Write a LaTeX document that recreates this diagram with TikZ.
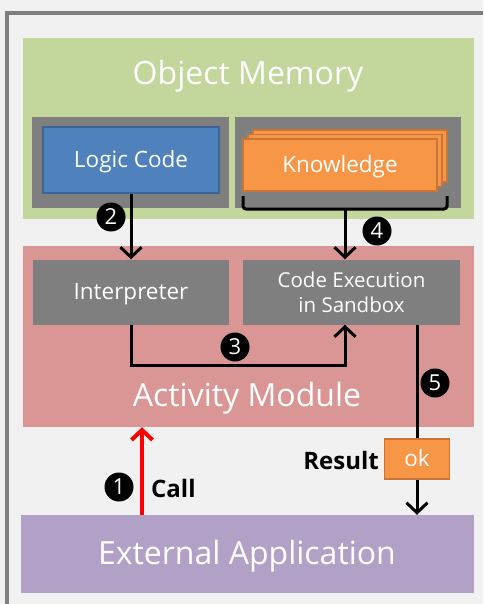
\documentclass[tikz,border=0pt]{standalone}
\usepackage{fontspec}
\setmainfont{Open Sans}
\usetikzlibrary{arrows.meta}
\definecolor{memgreen}{HTML}{C3D69B}
\definecolor{actred}{HTML}{D99694}
\definecolor{extpurple}{HTML}{B2A1C7}
\definecolor{boxgray}{HTML}{7F7F7F}
\definecolor{logicblue}{HTML}{4F81BD}
\definecolor{logicborder}{HTML}{3A6596}
\definecolor{knoworange}{HTML}{F79646}
\definecolor{knowborder}{HTML}{C87535}
\definecolor{backfill}{HTML}{F1F1F1}
\tikzset{
	panel/.style={rectangle, inner sep=0pt, text=white, align=center, text height=15pt, text depth=0pt, font=\fontsize{22.5}{25}\selectfont},
	title/.style={text=white, inner sep=0pt, text height=23pt, text depth=0pt, font=\fontsize{32}{36}\selectfont},
	badge/.style={circle, fill=black, text=white, minimum size=29pt, inner sep=0pt, font=\fontsize{22}{22}\selectfont},
	flow/.style={line width=3pt, -{Straight Barb[length=10pt,width=21pt]}},
	boldlabel/.style={inner sep=0pt, font=\fontsize{24}{26}\selectfont\bfseries},
}
\begin{document}
\begin{tikzpicture}[x=1pt,y=-1pt]
	\useasboundingbox (0,0) rectangle (483,604);
	\clip (0,0) rectangle (483,604);
	\fill[backfill] (0,0) rectangle (483,604);
	\draw[boxgray, line width=4pt] (7,13) rectangle (520,640);
	% object memory
	\node[panel, fill=memgreen, minimum width=451pt, minimum height=181pt] (mem) at (248.5,128.5) {};
	\node[title] (memtitle) at (248,73) {Object Memory};
	\node[panel, fill=boxgray, minimum width=197pt, minimum height=91pt] (logicbg) at (130.5,162.5) {};
	\node[panel, fill=logicblue, draw=logicborder, line width=1.5pt, minimum width=176pt, minimum height=66pt] (logic) at (131,160) {Logic Code};
	\node[panel, fill=boxgray, minimum width=226pt, minimum height=91pt] (knowbg) at (348,162.5) {};
	\foreach \s in {2,1}
		\node[panel, fill=knoworange, draw=knowborder, line width=1.5pt, minimum width=194pt, minimum height=52pt] (kb\s) at (340+5*\s,165-4.5*\s) {};
	\node[panel, fill=knoworange, draw=knowborder, line width=1.5pt, minimum width=194pt, minimum height=52pt] (know) at (340,165) {Knowledge};
	\coordinate (bl) at (243,196);
	\coordinate (br) at (447,196);
	\coordinate (k) at (345,209);
	\draw[line width=3pt, rounded corners=3pt] (bl) |- (k) -| (br);
	% activity module
	\node[panel, fill=actred, minimum width=451pt, minimum height=181pt] (act) at (248.5,336.5) {};
	\node[title] (acttitle) at (247,395) {Activity Module};
	\node[panel, fill=boxgray, minimum width=196pt, minimum height=65pt] (interp) at (131,292) {Interpreter};
	\node[panel, fill=boxgray, minimum width=217pt, minimum height=65pt, text height=, text depth=, font=\fontsize{20.5}{25}\selectfont] (exec) at (351.5,292) {Code Execution\\in Sandbox};
	% external application
	\node[panel, fill=extpurple, minimum width=453pt, minimum height=78pt] (ext) at (247.5,554) {};
	\node[title] (exttitle) at (247,553) {External Application};
	\coordinate (callx) at (142,0);
	\coordinate (resx) at (417,0);
	\node[panel, fill=knoworange, draw=knowborder, line width=1.5pt, minimum width=65pt, minimum height=40pt] (ok) at (417,459) {ok};
	\node[boldlabel, anchor=east] (result) at (379,460) {Result};
	\node[boldlabel, anchor=west] (call) at (151,488) {Call};
	% connectors
	\draw[flow] (logic) -- (interp);
	\draw[flow] (k) -- (k |- exec.north);
	\draw[flow] (interp.south) |- (0,365 -| k) -- (k |- exec.south);
	\draw[line width=3pt] (resx |- exec.south) -- (ok.north);
	\draw[flow] (ok.south) -- (resx |- ext.north);
	\draw[flow, red, line width=4pt] (callx |- ext.north) -- (callx |- act.south);
	% steps
	\node[badge] (b1) at (119,487) {1};
	\node[badge] (b2) at (111,217) {2};
	\node[badge] (b3) at (235,347) {3};
	\node[badge] (b4) at (377,231) {4};
	\node[badge] (b5) at (435,383) {5};
\end{tikzpicture}
\end{document}
